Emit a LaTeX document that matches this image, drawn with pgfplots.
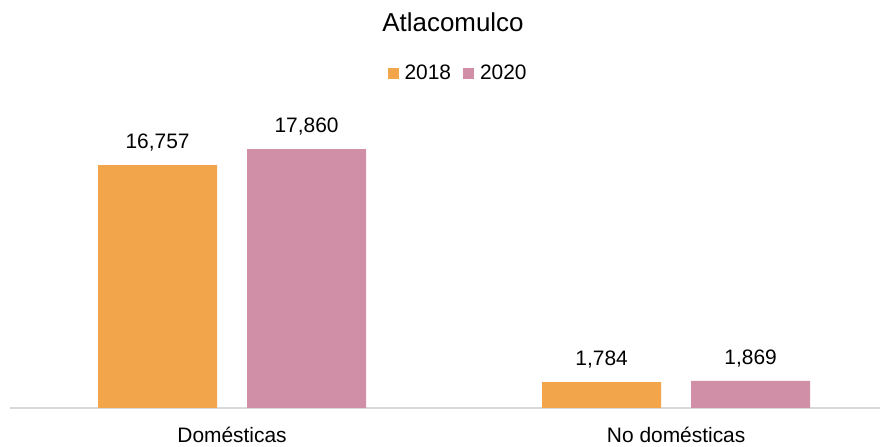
\documentclass[border=0pt]{standalone}
\usepackage{fontspec}
\setmainfont{Liberation Sans}
\usepackage{pgfplots}
\pgfplotsset{compat=1.18}
\definecolor{cOrange}{HTML}{F2A54A}
\definecolor{cPink}{HTML}{D08FA6}
\definecolor{cAxis}{HTML}{D9D9D9}
\begin{document}
\begin{tikzpicture}
\path[use as bounding box] (0,0) rectangle (886bp,447bp);
\node[font=\fontsize{26}{30}\selectfont] at (453bp,425bp) {Atlacomulco};
\begin{axis}[
  at={(10bp,39bp)}, anchor=south west,
  scale only axis, width=870bp, height=290bp,
  ybar=30bp, bar width=119bp,
  xmin=-0.5, xmax=1.459, ymin=0, ymax=20000,
  axis x line=bottom, axis y line=none,
  axis line style={cAxis, line width=1.5bp, -},
  xtick={0,1}, xticklabels={Domésticas, No domésticas},
  major tick length=0pt,
  xticklabel style={font=\fontsize{21}{24}\selectfont, yshift=-16bp},
  /pgf/number format/assume math mode=true,
  nodes near coords,
  nodes near coords style={font=\fontsize{21}{24}\selectfont, text=black, yshift=10bp, /pgf/number format/.cd, fixed, 1000 sep={,}},
  legend columns=2,
  legend style={draw=none, fill=none, at={(0.515,1.155)}, anchor=center, font=\fontsize{21}{24}\selectfont, /tikz/every even column/.append style={column sep=10bp}},
  legend image code/.code={\fill[#1] (0bp,-5.5bp) rectangle (11bp,5.5bp);},
]
\addplot[fill=cOrange, draw=none] coordinates {(0,16757) (1,1784)};
\addplot[fill=cPink, draw=none] coordinates {(0,17860) (1,1869)};
\legend{\hspace{4bp}2018, \hspace{4bp}2020}
\end{axis}
\end{tikzpicture}
\end{document}
